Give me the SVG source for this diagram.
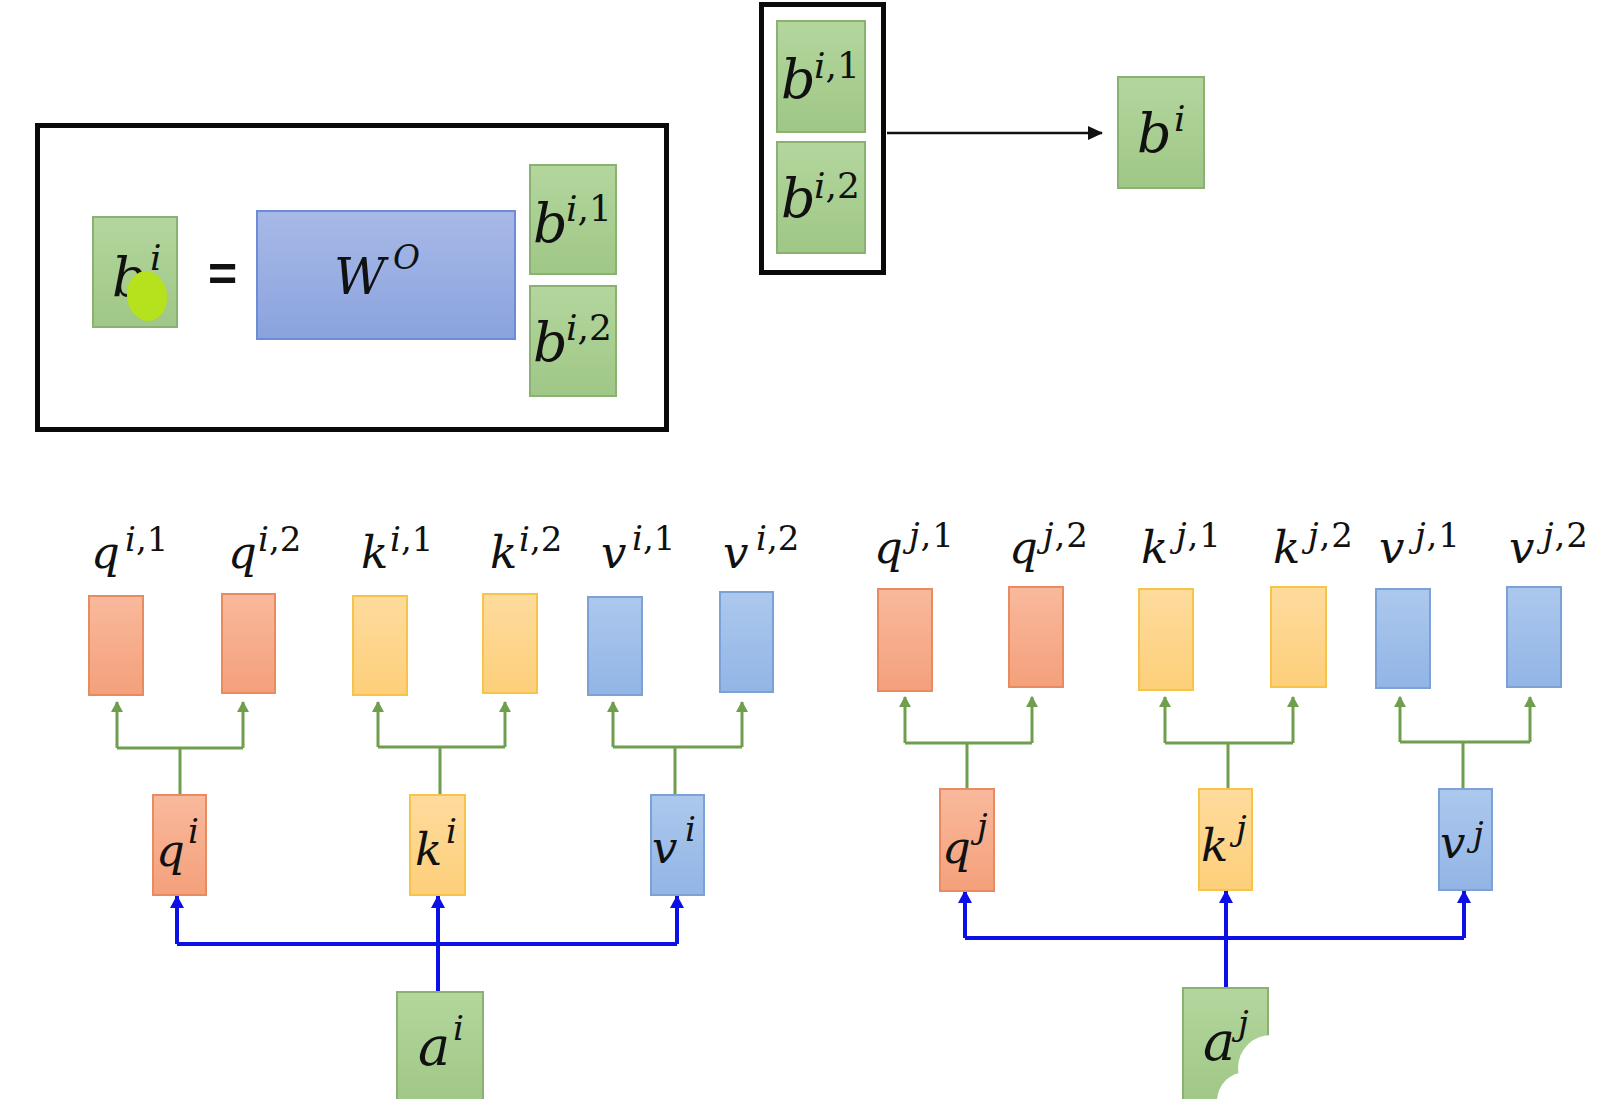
<svg xmlns="http://www.w3.org/2000/svg" width="1619" height="1099" viewBox="0 0 1619 1099">
<defs>
<linearGradient id="gOr" x1="0" y1="0" x2="0" y2="1"><stop offset="0" stop-color="#f9b99c"/><stop offset="1" stop-color="#f4a07b"/></linearGradient>
<linearGradient id="gYe" x1="0" y1="0" x2="0" y2="1"><stop offset="0" stop-color="#fedb9d"/><stop offset="1" stop-color="#fdcf7a"/></linearGradient>
<linearGradient id="gBl" x1="0" y1="0" x2="0" y2="1"><stop offset="0" stop-color="#acc8ed"/><stop offset="1" stop-color="#92b5e6"/></linearGradient>
<linearGradient id="gGr" x1="0" y1="0" x2="0" y2="1"><stop offset="0" stop-color="#b3d69d"/><stop offset="1" stop-color="#9fc786"/></linearGradient>
<linearGradient id="gW" x1="0" y1="0" x2="0" y2="1"><stop offset="0" stop-color="#a8b9e7"/><stop offset="1" stop-color="#8aa3de"/></linearGradient>
<marker id="mBlue" markerUnits="userSpaceOnUse" markerWidth="14" markerHeight="14" refX="12" refY="7" orient="auto"><path d="M0,0 L13,7 L0,14 z" fill="#0d10e6"/></marker>
<marker id="mGreen" markerUnits="userSpaceOnUse" markerWidth="12" markerHeight="12" refX="10" refY="6" orient="auto"><path d="M0,0 L11,6 L0,12 z" fill="#6f9e4c"/></marker>
<marker id="mBlack" markerUnits="userSpaceOnUse" markerWidth="16" markerHeight="14" refX="14" refY="7" orient="auto"><path d="M0,0 L15,7 L0,14 z" fill="#111"/></marker>
</defs>
<style>
.or{fill:url(#gOr);stroke:#e98b60;stroke-width:2}
.ye{fill:url(#gYe);stroke:#f6c448;stroke-width:2}
.bl{fill:url(#gBl);stroke:#7ca1d5;stroke-width:2}
.gr{fill:url(#gGr);stroke:#8ab171;stroke-width:2}
.wo{fill:url(#gW);stroke:#6c8cd6;stroke-width:2}
.frame{fill:none;stroke:#0a0a0a;stroke-width:5}
.t{font-family:"DejaVu Serif","Liberation Serif",serif;font-style:italic;fill:#111}
.L{font-size:45px}
.S{font-size:34px}
.S2{font-size:34px}
.B{font-size:54px}
.BS{font-size:36px}
.up{font-style:normal}
.blue{fill:none;stroke:#0d10e6;stroke-width:4}
.green{fill:none;stroke:#6f9e4c;stroke-width:3}
</style>
<rect width="1619" height="1099" fill="#ffffff"/>

<!-- connectors -->
<g id="connectors">
  <line x1="887" y1="133" x2="1102" y2="133" stroke="#111" stroke-width="2.5" marker-end="url(#mBlack)"/>
  <path class="blue" d="M177,944 L677,944"/>
  <line class="blue" x1="177" y1="944" x2="177" y2="896" marker-end="url(#mBlue)"/>
  <line class="blue" x1="438" y1="991" x2="438" y2="896" marker-end="url(#mBlue)"/>
  <line class="blue" x1="677" y1="944" x2="677" y2="896" marker-end="url(#mBlue)"/>
  <path class="blue" d="M965,938 L1464,938"/>
  <line class="blue" x1="965" y1="938" x2="965" y2="891" marker-end="url(#mBlue)"/>
  <line class="blue" x1="1226" y1="987" x2="1226" y2="891" marker-end="url(#mBlue)"/>
  <line class="blue" x1="1464" y1="938" x2="1464" y2="891" marker-end="url(#mBlue)"/>
  <path class="green" d="M180,795 V748 M117,748 H243"/>
  <line class="green" x1="117" y1="748" x2="117" y2="702" marker-end="url(#mGreen)"/>
  <line class="green" x1="243" y1="748" x2="243" y2="702" marker-end="url(#mGreen)"/>
  <path class="green" d="M440,795 V747 M378,747 H505"/>
  <line class="green" x1="378" y1="747" x2="378" y2="702" marker-end="url(#mGreen)"/>
  <line class="green" x1="505" y1="747" x2="505" y2="702" marker-end="url(#mGreen)"/>
  <path class="green" d="M675,795 V747 M613,747 H742"/>
  <line class="green" x1="613" y1="747" x2="613" y2="702" marker-end="url(#mGreen)"/>
  <line class="green" x1="742" y1="747" x2="742" y2="702" marker-end="url(#mGreen)"/>
  <path class="green" d="M967,789 V743 M905,743 H1032"/>
  <line class="green" x1="905" y1="743" x2="905" y2="697" marker-end="url(#mGreen)"/>
  <line class="green" x1="1032" y1="743" x2="1032" y2="697" marker-end="url(#mGreen)"/>
  <path class="green" d="M1228,789 V743 M1165,743 H1293"/>
  <line class="green" x1="1165" y1="743" x2="1165" y2="697" marker-end="url(#mGreen)"/>
  <line class="green" x1="1293" y1="743" x2="1293" y2="697" marker-end="url(#mGreen)"/>
  <path class="green" d="M1463,789 V742 M1400,742 H1530"/>
  <line class="green" x1="1400" y1="742" x2="1400" y2="697" marker-end="url(#mGreen)"/>
  <line class="green" x1="1530" y1="742" x2="1530" y2="697" marker-end="url(#mGreen)"/>
</g>

<g id="eqbox">
  <rect class="frame" x="37.5" y="125.5" width="629" height="304"/>
</g>
<g id="bi-left">
  <rect class="gr" x="93" y="217" width="84" height="110"/>
  <text class="t B" x="112" y="296">b</text>
  <text class="t BS" x="150" y="270">i</text>
  <ellipse cx="147" cy="296" rx="20" ry="25" fill="#b5e21c" transform="rotate(-8 147 296)"/>
</g>
<g id="equals">
  <text x="208" y="291" font-family="Liberation Sans, Arial, sans-serif" font-weight="bold" font-size="50" fill="#111">=</text>
</g>
<g id="WO">
  <rect class="wo" x="257" y="211" width="258" height="128"/>
  <text class="t" x="334" y="294" font-size="50">W</text>
  <text class="t" x="393" y="269" font-size="33">O</text>
</g>
<g id="bi1-left">
  <rect class="gr" x="530" y="165" width="86" height="109"/>
  <text class="t B" x="533" y="242">b</text>
  <text class="t BS" x="566" y="221">i<tspan class="up">,1</tspan></text>
</g>
<g id="bi2-left">
  <rect class="gr" x="530" y="286" width="86" height="110"/>
  <text class="t B" x="533" y="361">b</text>
  <text class="t BS" x="566" y="340">i<tspan class="up">,2</tspan></text>
</g>

<g id="concatbox">
  <rect class="frame" x="761.5" y="4.5" width="122" height="268"/>
</g>
<g id="bi1-top">
  <rect class="gr" x="777" y="21" width="88" height="111"/>
  <text class="t B" x="781" y="98">b</text>
  <text class="t BS" x="814" y="78">i<tspan class="up">,1</tspan></text>
</g>
<g id="bi2-top">
  <rect class="gr" x="777" y="142" width="88" height="111"/>
  <text class="t B" x="781" y="217">b</text>
  <text class="t BS" x="814" y="198">i<tspan class="up">,2</tspan></text>
</g>
<g id="bi-top">
  <rect class="gr" x="1118" y="77" width="86" height="111"/>
  <text class="t B" x="1137" y="152">b</text>
  <text class="t BS" x="1174" y="131">i</text>
</g>

<g id="qi1"><rect class="or" x="89" y="596" width="54" height="99"/><text class="t L" x="91" y="568">q</text><text class="t S" x="125" y="551">i<tspan class="up">,1</tspan></text></g>
<g id="qi2"><rect class="or" x="222" y="594" width="53" height="99"/><text class="t L" x="228" y="568">q</text><text class="t S" x="258" y="551">i<tspan class="up">,2</tspan></text></g>
<g id="ki1"><rect class="ye" x="353" y="596" width="54" height="99"/><text class="t L" x="361" y="568">k</text><text class="t S" x="390" y="551">i<tspan class="up">,1</tspan></text></g>
<g id="ki2"><rect class="ye" x="483" y="594" width="54" height="99"/><text class="t L" x="490" y="568">k</text><text class="t S" x="519" y="551">i<tspan class="up">,2</tspan></text></g>
<g id="vi1"><rect class="bl" x="588" y="597" width="54" height="98"/><text class="t L" x="601" y="568">v</text><text class="t S" x="632" y="550">i<tspan class="up">,1</tspan></text></g>
<g id="vi2"><rect class="bl" x="720" y="592" width="53" height="100"/><text class="t L" x="723" y="568">v</text><text class="t S" x="756" y="550">i<tspan class="up">,2</tspan></text></g>

<g id="qj1"><rect class="or" x="878" y="589" width="54" height="102"/><text class="t L" x="874" y="563">q</text><text class="t S" x="909" y="547" letter-spacing="1">j<tspan class="up">,1</tspan></text></g>
<g id="qj2"><rect class="or" x="1009" y="587" width="54" height="100"/><text class="t L" x="1009" y="563">q</text><text class="t S" x="1043" y="547" letter-spacing="1">j<tspan class="up">,2</tspan></text></g>
<g id="kj1"><rect class="ye" x="1139" y="589" width="54" height="101"/><text class="t L" x="1141" y="563">k</text><text class="t S" x="1176" y="547" letter-spacing="1">j<tspan class="up">,1</tspan></text></g>
<g id="kj2"><rect class="ye" x="1271" y="587" width="55" height="100"/><text class="t L" x="1273" y="563">k</text><text class="t S" x="1308" y="547" letter-spacing="1">j<tspan class="up">,2</tspan></text></g>
<g id="vj1"><rect class="bl" x="1376" y="589" width="54" height="99"/><text class="t L" x="1379" y="563">v</text><text class="t S" x="1415" y="547" letter-spacing="1">j<tspan class="up">,1</tspan></text></g>
<g id="vj2"><rect class="bl" x="1507" y="587" width="54" height="100"/><text class="t L" x="1509" y="563">v</text><text class="t S" x="1543" y="547" letter-spacing="1">j<tspan class="up">,2</tspan></text></g>

<g id="qi"><rect class="or" x="153" y="795" width="53" height="100"/><text class="t L" x="156" y="866">q</text><text class="t S2" x="188" y="843">i</text></g>
<g id="ki"><rect class="ye" x="410" y="795" width="55" height="100"/><text class="t L" x="415" y="865">k</text><text class="t S2" x="446" y="843">i</text></g>
<g id="vi"><rect class="bl" x="651" y="795" width="53" height="100"/><text class="t L" x="652" y="863">v</text><text class="t S2" x="685" y="841">i</text></g>
<g id="qj"><rect class="or" x="940" y="789" width="54" height="102"/><text class="t L" x="942" y="863">q</text><text class="t S2" x="977" y="838">j</text></g>
<g id="kj"><rect class="ye" x="1199" y="789" width="53" height="101"/><text class="t L" x="1201" y="861">k</text><text class="t S2" x="1236" y="840">j</text></g>
<g id="vj"><rect class="bl" x="1439" y="789" width="53" height="101"/><text class="t L" x="1440" y="858">v</text><text class="t S2" x="1473" y="846">j</text></g>

<g id="ai"><rect class="gr" x="397" y="992" width="86" height="112"/><text class="t" font-size="54" x="418" y="1065">a</text><text class="t S2" x="453" y="1040">i</text></g>
<g id="aj"><rect class="gr" x="1183" y="988" width="85" height="116"/><text class="t" font-size="54" x="1203" y="1060">a</text><text class="t S2" x="1238" y="1035">j</text>
  <circle cx="1271" cy="1068" r="33" fill="#ffffff"/>
  <circle cx="1246" cy="1101" r="29" fill="#ffffff"/>
</g>
</svg>
